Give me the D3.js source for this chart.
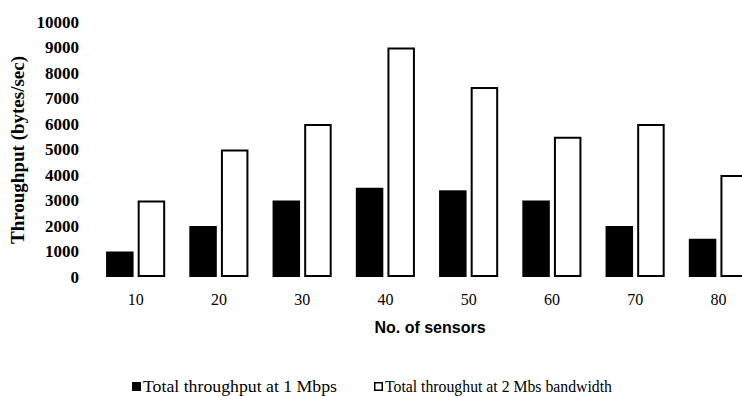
<!DOCTYPE html>
<html>
<head>
<meta charset="utf-8">
<script src="https://cdn.jsdelivr.net/npm/d3@7"></script>
<style>
  body { margin: 0; background: #fff; }
  svg { display: block; overflow: hidden; }
  .tick text { fill: #000; }
</style>
</head>
<body>
<div id="chart"></div>
<script>
// Chart data
const sensors = ['10', '20', '30', '40', '50', '60', '70', '80'];
const throughput1Mbps = [1000, 2000, 3000, 3500, 3400, 3000, 2000, 1500];
const throughput2Mbps = [3000, 5000, 6000, 9000, 7450, 5500, 6000, 4000];
const seriesNames = ['Total throughput at 1 Mbps', 'Total throughut at 2 Mbs bandwidth'];
const yTicks = [0, 1000, 2000, 3000, 4000, 5000, 6000, 7000, 8000, 9000, 10000];

const width = 742;
const height = 396;

const rows = sensors.map((s, i) => ({ sensor: s, values: [throughput1Mbps[i], throughput2Mbps[i]] }));

const svg = d3.select('#chart').append('svg')
  .attr('width', width)
  .attr('height', height);

// Scales (plot runs past the right edge, as in the original picture)
const x0 = d3.scaleBand()
  .domain(sensors)
  .range([94, 760])
  .paddingInner(0.29)
  .paddingOuter(0.145);

const x1 = d3.scaleBand()
  .domain([0, 1])
  .range([0, x0.bandwidth()])
  .paddingInner(0.13);

const y = d3.scaleLinear()
  .domain([0, 10000])
  .range([277, 22]);

// Y axis: labels only
const yAxis = d3.axisLeft(y)
  .tickValues(yTicks)
  .tickFormat(d3.format('d'))
  .tickSize(0)
  .tickPadding(0);

svg.append('g')
  .attr('transform', 'translate(79,0)')
  .call(yAxis)
  .call(g => g.select('.domain').remove())
  .selectAll('text')
    .attr('font-family', '"Liberation Serif", "Times New Roman", serif')
    .attr('font-size', 17)
    .attr('font-weight', 'bold');

// X axis: labels only
const xAxis = d3.axisBottom(x0).tickSize(0).tickPadding(0);
svg.append('g')
  .attr('transform', 'translate(0,294)')
  .call(xAxis)
  .call(g => g.select('.domain').remove())
  .selectAll('text')
    .attr('font-family', '"Liberation Serif", "Times New Roman", serif')
    .attr('font-size', 16);

// Bars
const groups = svg.append('g')
  .selectAll('g')
  .data(rows)
  .enter()
  .append('g')
    .attr('transform', d => `translate(${x0(d.sensor)},0)`);

groups.selectAll('rect')
  .data(d => d.values.map((v, k) => ({ k, v })))
  .enter()
  .append('rect')
    .attr('x', d => x1(d.k) + (d.k === 1 ? 1 : 0))
    .attr('y', d => y(d.v) + (d.k === 1 ? 1 : 0))
    .attr('width', d => x1.bandwidth() - (d.k === 1 ? 2 : 0))
    .attr('height', d => y(0) - y(d.v) - (d.k === 1 ? 2 : 0))
    .attr('fill', d => (d.k === 0 ? '#000' : '#fff'))
    .attr('stroke', d => (d.k === 0 ? 'none' : '#000'))
    .attr('stroke-width', 2);

// Y axis title
svg.append('text')
  .attr('transform', 'translate(24,150)rotate(-90)')
  .attr('text-anchor', 'middle')
  .attr('font-family', '"Liberation Serif", "Times New Roman", serif')
  .attr('font-size', 19)
  .attr('font-weight', 'bold')
  .text('Throughput (bytes/sec)');

// X axis title
svg.append('text')
  .attr('x', 430)
  .attr('y', 333)
  .attr('text-anchor', 'middle')
  .attr('font-family', '"Liberation Sans", Arial, sans-serif')
  .attr('font-size', 16)
  .attr('font-weight', 'bold')
  .text('No. of sensors');

// Legend
const legendWidths = [194, 227];

const legend = svg.append('g')
  .selectAll('g')
  .data(seriesNames)
  .enter()
  .append('g')
    .attr('transform', (d, i) => `translate(${i === 0 ? 132 : 374},382)`);

legend.append('rect')
  .attr('x', (d, i) => (i === 0 ? 0 : 0.75))
  .attr('y', (d, i) => (i === 0 ? 0 : 0.75))
  .attr('width', (d, i) => (i === 0 ? 9 : 7.5))
  .attr('height', (d, i) => (i === 0 ? 9 : 7.5))
  .attr('fill', (d, i) => (i === 0 ? '#000' : '#fff'))
  .attr('stroke', (d, i) => (i === 0 ? 'none' : '#000'))
  .attr('stroke-width', 1.5);

legend.append('text')
  .attr('x', 11)
  .attr('y', 10)
  .attr('font-family', '"Liberation Serif", "Times New Roman", serif')
  .attr('font-size', 17)
  .attr('textLength', (d, i) => legendWidths[i])
  .attr('lengthAdjust', 'spacingAndGlyphs')
  .text(d => d);
</script>
</body>
</html>
